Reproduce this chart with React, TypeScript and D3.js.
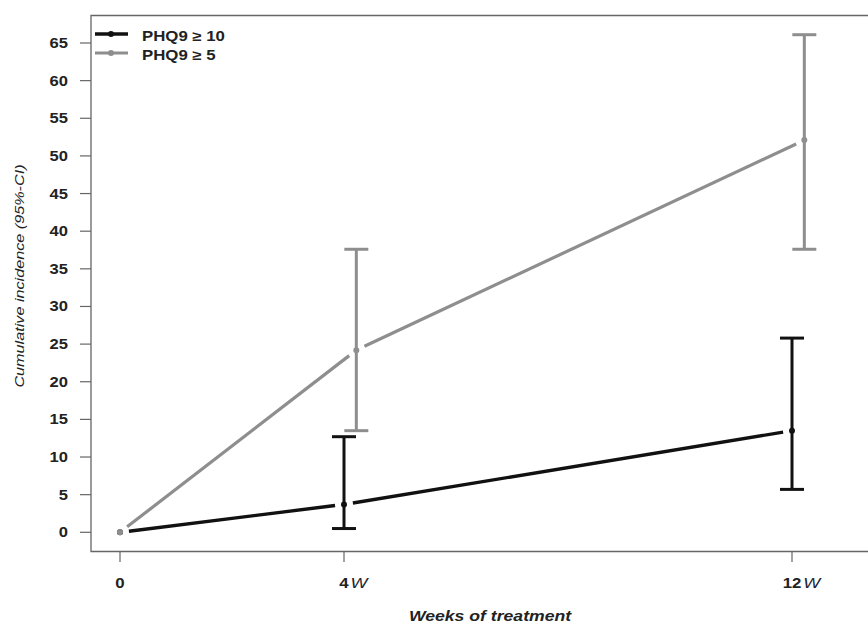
import React from "react";
import * as d3 from "d3";

// Weeks of treatment and cumulative incidence (%) with 95% CI
const weeks = [0, 4, 12];
const weekLabels = ["0", "4", "12"];
const yTicks = [0, 5, 10, 15, 20, 25, 30, 35, 40, 45, 50, 55, 60, 65];

const phq10 = [0, 3.7, 13.5];
const phq10Low = [0, 0.5, 5.7];
const phq10High = [0, 12.7, 25.8];

const phq5 = [0, 24.2, 52.1];
const phq5Low = [0, 13.5, 37.6];
const phq5High = [0, 37.6, 66.1];

// horizontal dodge (weeks) of the PHQ9 >= 5 series so bars don't overlap
const dodge5 = [0, 0.22, 0.22];

const series = [
  { name: "PHQ9 \u2265 10", color: "#111111", width: 3.4, vals: phq10, lo: phq10Low, hi: phq10High, dodge: [0, 0, 0] },
  { name: "PHQ9 \u2265 5", color: "#8e8e8e", width: 3.2, vals: phq5, lo: phq5Low, hi: phq5High, dodge: dodge5 },
];

const W = 868;
const H = 625;
const FONT = "'Liberation Sans', Arial, sans-serif";
const SX = 1.2; // wide text stretch

export default function App() {
  const x = d3.scaleLinear().domain([0, 12]).range([120, 792]);
  const y = d3.scaleLinear().domain([0, 65]).range([532.3, 43]);

  const boxLeft = 91;
  const boxTop = 15.5;
  const boxBottom = 551.5;
  const gap = 9;

  const segs = (s: typeof series[number]) => {
    const pts = weeks.map((w, i) => [x(w + s.dodge[i]), y(s.vals[i])] as [number, number]);
    const out: [number, number, number, number][] = [];
    for (let i = 0; i < pts.length - 1; i++) {
      const [x0, y0] = pts[i];
      const [x1, y1] = pts[i + 1];
      const len = Math.hypot(x1 - x0, y1 - y0);
      const ux = (x1 - x0) / len;
      const uy = (y1 - y0) / len;
      out.push([x0 + ux * gap, y0 + uy * gap, x1 - ux * gap, y1 - uy * gap]);
    }
    return { pts, out };
  };

  return (
    <svg width={W} height={H} style={{ position: "absolute", left: 0, top: 0, background: "#fff" }} fontFamily={FONT}>
      {/* plot frame */}
      <path d={`M${W + 5},${boxTop}H${boxLeft}V${boxBottom}H${W + 5}`} fill="none" stroke="#666" strokeWidth={1.3} />

      {/* y axis ticks */}
      {yTicks.map((t) => (
        <g key={t}>
          <line x1={80} x2={boxLeft} y1={y(t)} y2={y(t)} stroke="#666" strokeWidth={1.2} />
          <g transform={`translate(68,${y(t)}) scale(${SX},1)`}>
            <text dy="0.36em" textAnchor="end" fontSize={13.8} fontWeight="bold" fill="#222">
              {t}
            </text>
          </g>
        </g>
      ))}

      {/* x axis ticks: number centred on the tick, W appended */}
      {weeks.map((w, i) => (
        <g key={w}>
          <line x1={x(w)} x2={x(w)} y1={boxBottom} y2={562} stroke="#666" strokeWidth={1.2} />
          <g transform={`translate(${x(w)},588) scale(${SX},1)`}>
            <text textAnchor="middle" fontSize={14} fontWeight="bold" fill="#222">
              {weekLabels[i]}
            </text>
            {w > 0 && (
              <text
                x={weekLabels[i].length * 3.9 + 1.5}
                fontSize={15}
                fontStyle="italic"
                fill="#1c2433"
              >
                W
              </text>
            )}
          </g>
        </g>
      ))}

      {/* axis titles */}
      <g transform={`translate(490,621) scale(${SX + 0.06},1)`}>
        <text textAnchor="middle" fontSize={14} fontWeight="bold" fontStyle="italic" fill="#222">
          Weeks of treatment
        </text>
      </g>
      <g transform={`translate(24,276) rotate(-90) scale(${SX},1)`}>
        <text textAnchor="middle" fontSize={13.5} fontStyle="italic" fill="#222">
          Cumulative incidence (95%-CI)
        </text>
      </g>

      {/* series */}
      {series.map((s) => {
        const { pts, out } = segs(s);
        return (
          <g key={s.name}>
            {out.map((sg, i) => (
              <line key={i} x1={sg[0]} y1={sg[1]} x2={sg[2]} y2={sg[3]} stroke={s.color} strokeWidth={s.width} />
            ))}
            {weeks.map((w, i) =>
              i === 0 ? null : (
                <g key={w}>
                  <line x1={pts[i][0]} x2={pts[i][0]} y1={y(s.lo[i])} y2={y(s.hi[i])} stroke={s.color} strokeWidth={3} />
                  <line x1={pts[i][0] - 12} x2={pts[i][0] + 12} y1={y(s.lo[i])} y2={y(s.lo[i])} stroke={s.color} strokeWidth={3} />
                  <line x1={pts[i][0] - 12} x2={pts[i][0] + 12} y1={y(s.hi[i])} y2={y(s.hi[i])} stroke={s.color} strokeWidth={3} />
                </g>
              )
            )}
            {pts.map((p, i) => (
              <circle key={i} cx={p[0]} cy={p[1]} r={3} fill={s.color} />
            ))}
          </g>
        );
      })}

      {/* legend */}
      {series.map((s, i) => {
        const ly = 34 + i * 19;
        return (
          <g key={s.name}>
            <line x1={95} x2={128} y1={ly} y2={ly} stroke={s.color} strokeWidth={s.width} />
            <circle cx={111} cy={ly} r={3} fill={s.color} />
            <g transform={`translate(142,${ly + 1.5}) scale(${SX},1)`}>
              <text dy="0.36em" fontSize={14} fontWeight="bold" fill="#222">
                {s.name}
              </text>
            </g>
          </g>
        );
      })}
    </svg>
  );
}
